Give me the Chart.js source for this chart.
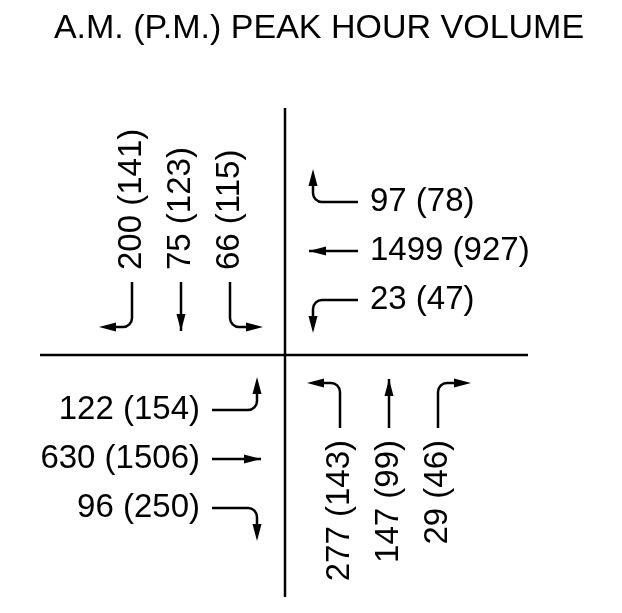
<!DOCTYPE html>
<html>
<head>
<meta charset="utf-8">
<script src="https://cdn.jsdelivr.net/npm/chart.js@4.4.1/dist/chart.umd.min.js"></script>
<style>
  html, body { margin: 0; padding: 0; background: #fff; }
  #wrap { width: 622px; height: 613px; }
</style>
</head>
<body>
<div id="wrap"><canvas id="tmc" width="622" height="613"></canvas></div>
<script>
// Volumes per approach, order: left, through, right
var movements = ['Left', 'Through', 'Right'];
var sbAM = [66, 75, 200];
var sbPM = [115, 123, 141];
var wbAM = [23, 1499, 97];
var wbPM = [47, 927, 78];
var ebAM = [122, 630, 96];
var ebPM = [154, 1506, 250];
var nbAM = [277, 147, 29];
var nbPM = [143, 99, 46];

// approach: travel direction (x right, y up) + volumes
var approaches = [
    { name: 'Southbound', dir: [0, -1], am: sbAM, pm: sbPM, vertical: true,  align: 'left'  },
    { name: 'Westbound',  dir: [-1, 0], am: wbAM, pm: wbPM, vertical: false, align: 'left'  },
    { name: 'Eastbound',  dir: [1, 0],  am: ebAM, pm: ebPM, vertical: false, align: 'right' },
    { name: 'Northbound', dir: [0, 1],  am: nbAM, pm: nbPM, vertical: true,  align: 'right' }
];

// lane offset from the centre line (scale units)
var laneOffset = [55, 104, 153];
var FONT = '"Liberation Sans", Arial, sans-serif';

// position: a = distance upstream of the intersection, r = offset to driver's right
function local(ap, a, r) {
    var t = ap.dir;
    return { x: -a * t[0] + r * t[1], y: -a * t[1] - r * t[0] };
}

function arrowHead(ctx, p, q) {
    // tip at q, coming from p
    var ang = Math.atan2(q.y - p.y, q.x - p.x);
    var len = 17, half = 4.5;
    ctx.beginPath();
    ctx.moveTo(q.x, q.y);
    ctx.lineTo(q.x - len * Math.cos(ang) + half * Math.sin(ang), q.y - len * Math.sin(ang) - half * Math.cos(ang));
    ctx.lineTo(q.x - len * Math.cos(ang) - half * Math.sin(ang), q.y - len * Math.sin(ang) + half * Math.cos(ang));
    ctx.closePath();
    ctx.fill();
}

var intersectionPlugin = {
    id: 'intersection',
    afterDatasetsDraw: function (chart) {
        var ctx = chart.ctx;
        var sx = chart.scales.x, sy = chart.scales.y;
        function px(p) { return { x: sx.getPixelForValue(p.x), y: sy.getPixelForValue(p.y) }; }

        ctx.save();
        ctx.strokeStyle = '#000';
        ctx.fillStyle = '#000';
        ctx.lineWidth = 2.5;

        approaches.forEach(function (ap) {
            for (var i = 0; i < movements.length; i++) {
                var r = laneOffset[i];
                var tail = px(local(ap, 73, r));
                var last, prev;
                ctx.beginPath();
                ctx.moveTo(tail.x, tail.y);
                if (i === 1) {
                    last = px(local(ap, 24, r));
                    prev = tail;
                    ctx.lineTo(last.x, last.y);
                } else {
                    var s = i === 0 ? -1 : 1;
                    var corner = px(local(ap, 28, r));
                    last = px(local(ap, 28, r + s * 33));
                    prev = corner;
                    ctx.arcTo(corner.x, corner.y, last.x, last.y, 9);
                    ctx.lineTo(last.x - (last.x - corner.x) * 0.3, last.y - (last.y - corner.y) * 0.3);
                }
                ctx.stroke();
                arrowHead(ctx, prev, last);

                // label
                var lp = px(local(ap, 85, r));
                var txt = ap.am[i] + ' (' + ap.pm[i] + ')';
                ctx.font = '33px ' + FONT;
                ctx.textBaseline = 'middle';
                ctx.textAlign = ap.align;
                ctx.save();
                ctx.translate(lp.x, lp.y);
                if (ap.vertical) ctx.rotate(-Math.PI / 2);
                ctx.fillText(txt, 0, 0);
                ctx.restore();
            }
        });
        ctx.restore();
    }
};

new Chart(document.getElementById('tmc'), {
    type: 'scatter',
    data: {
        datasets: [
            { label: 'E-W road', data: [{ x: -245, y: 0 }, { x: 243, y: 0 }], showLine: true, borderColor: '#000', borderWidth: 2.5, pointRadius: 0 },
            { label: 'N-S road', data: [{ x: 0, y: 247 }, { x: 0, y: -242 }], showLine: true, borderColor: '#000', borderWidth: 2.5, pointRadius: 0 }
        ]
    },
    options: {
        responsive: false,
        animation: false,
        layout: { padding: { left: 16, right: 0, top: 0, bottom: 0 } },
        scales: {
            x: { type: 'linear', min: -269, max: 337, display: false },
            y: { type: 'linear', min: -258, max: 306.2, display: false }
        },
        plugins: {
            legend: { display: false },
            tooltip: { enabled: false },
            title: {
                display: true,
                text: 'A.M. (P.M.) PEAK HOUR VOLUME',
                color: '#000',
                font: { family: FONT, size: 34, weight: 'normal', lineHeight: 1.2 },
                padding: { top: 8, bottom: 0 }
            }
        }
    },
    plugins: [intersectionPlugin]
});
</script>
</body>
</html>
